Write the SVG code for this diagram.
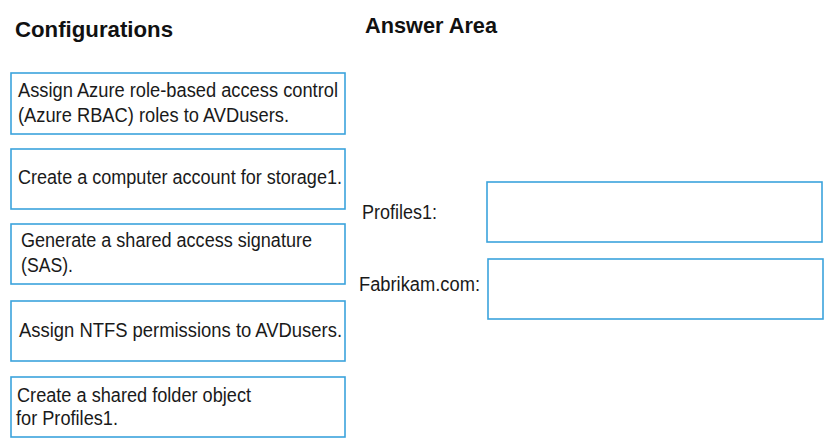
<svg xmlns="http://www.w3.org/2000/svg" width="830" height="448" viewBox="0 0 830 448">
<style>
.bg{fill:#ffffff}
.box{fill:#ffffff;stroke:#3ba3dc;stroke-width:1.6}
.h{font-family:"Liberation Sans",Arial,sans-serif;font-weight:bold;font-size:22px;fill:#111111}
.t{font-family:"Liberation Sans",Arial,sans-serif;font-size:20px;fill:#1a1a1a}
</style>
<rect class="bg" x="0" y="0" width="830" height="448"/>
<text class="h" x="15" y="37" textLength="158" lengthAdjust="spacingAndGlyphs">Configurations</text>
<text class="h" x="365" y="33" textLength="132" lengthAdjust="spacingAndGlyphs">Answer Area</text>
<g id="config1">
<rect class="box" x="11" y="73" width="334" height="61"/>
<text class="t" x="18" y="97" textLength="320" lengthAdjust="spacingAndGlyphs">Assign Azure role-based access control</text>
<text class="t" x="18" y="122" textLength="271" lengthAdjust="spacingAndGlyphs">(Azure RBAC) roles to AVDusers.</text>
</g>
<g id="config2">
<rect class="box" x="11" y="149" width="334" height="60"/>
<text class="t" x="18" y="184" textLength="324" lengthAdjust="spacingAndGlyphs">Create a computer account for storage1.</text>
</g>
<g id="config3">
<rect class="box" x="11" y="224" width="334" height="60"/>
<text class="t" x="21" y="247" textLength="291" lengthAdjust="spacingAndGlyphs">Generate a shared access signature</text>
<text class="t" x="21" y="272" textLength="52" lengthAdjust="spacingAndGlyphs">(SAS).</text>
</g>
<g id="config4">
<rect class="box" x="11" y="301" width="334" height="60"/>
<text class="t" x="19" y="337" textLength="323" lengthAdjust="spacingAndGlyphs">Assign NTFS permissions to AVDusers.</text>
</g>
<g id="config5">
<rect class="box" x="11" y="377" width="334" height="60"/>
<text class="t" x="17" y="402" textLength="234" lengthAdjust="spacingAndGlyphs">Create a shared folder object</text>
<text class="t" x="16" y="425" textLength="102" lengthAdjust="spacingAndGlyphs">for Profiles1.</text>
</g>
<g id="answer-profiles1">
<text class="t" x="362" y="219" textLength="75" lengthAdjust="spacingAndGlyphs">Profiles1:</text>
<rect class="box" x="487" y="182" width="335" height="60"/>
</g>
<g id="answer-fabrikam">
<text class="t" x="359" y="291" textLength="121" lengthAdjust="spacingAndGlyphs">Fabrikam.com:</text>
<rect class="box" x="488" y="259" width="335" height="60"/>
</g>
<g id="connectors"></g>
</svg>
